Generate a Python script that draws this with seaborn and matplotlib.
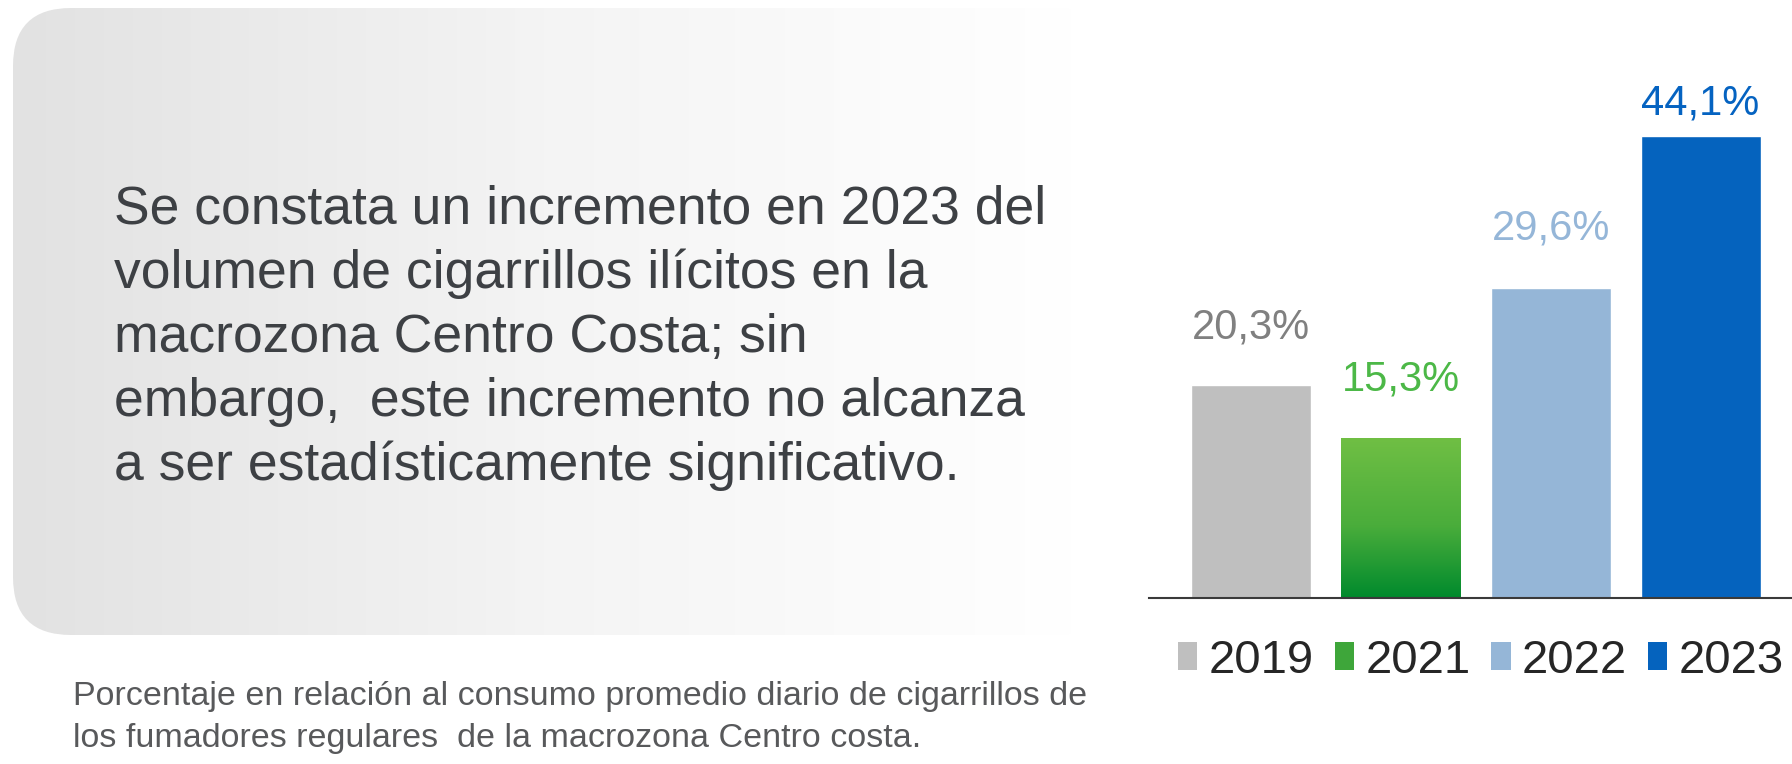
import numpy as np
import pandas as pd
import matplotlib
matplotlib.use("Agg")
import matplotlib.pyplot as plt
import seaborn as sns
from matplotlib.patches import FancyBboxPatch, Patch
from matplotlib.colors import LinearSegmentedColormap

# data
years = ["2019", "2021", "2022", "2023"]
values = [20.3, 15.3, 29.6, 44.1]
value_labels = ["20,3%", "15,3%", "29,6%", "44,1%"]

# styles
bar_colors = ["#bfbfbf", "#4fae3c", "#95b6d7", "#0563be"]
label_colors = ["#808080", "#4cb847", "#95b6d8", "#0563c1"]
label_offsets = [34, 34, 35, 16]  # points above bar top

main_lines = ["Se constata un incremento en 2023 del",
              "volumen de cigarrillos ilícitos en la",
              "macrozona Centro Costa; sin",
              "embargo,  este incremento no alcanza",
              "a ser estadísticamente significativo."]
note_lines = ["Porcentaje en relación al consumo promedio diario de cigarrillos de",
              "los fumadores regulares  de la macrozona Centro costa."]

df = pd.DataFrame({"year": years, "value": values})

sns.set_theme(style="white")
plt.rcParams["font.family"] = ["Liberation Sans", "DejaVu Sans"]

W, H = 1792, 764
fig = plt.figure(figsize=(W / 100, H / 100), dpi=100)

# background panel with grey-to-white gradient (pixel coordinates)
bg = fig.add_axes([0, 0, 1, 1], zorder=0)
panel = FancyBboxPatch((13, 8), 1100, 627, boxstyle="round,pad=0,rounding_size=58",
                       fc="none", ec="none")
bg.add_patch(panel)
panel_cmap = LinearSegmentedColormap.from_list("panel", ["#e2e2e2", "#f4f4f4", "#ffffff"])
im = bg.imshow(np.linspace(0, 1, 256)[None, :], cmap=panel_cmap,
               extent=(13, 1075, 635, 8), aspect="auto")
im.set_clip_path(panel)
bg.set_xlim(0, W)
bg.set_ylim(H, 0)
bg.axis("off")

for i, line in enumerate(main_lines):
    bg.text(114, 224 + i * 64, line, fontsize=38.5, color="#3d4044", va="baseline")
for i, line in enumerate(note_lines):
    bg.text(73, 705 + i * 42, line, fontsize=24.5, color="#58595b", va="baseline")

# bar chart
ax = fig.add_axes([1149 / W, (H - 598) / H, (W - 1149) / W, 598 / H], zorder=1)
ax.patch.set_alpha(0)
sns.barplot(data=df, x="year", y="value", hue="year", palette=bar_colors,
            width=0.8, saturation=1, legend=False, ax=ax)

# green gradient on the 2021 bar
green = ax.patches[1]
gx, gw, gh = green.get_x(), green.get_width(), green.get_height()
green_cmap = LinearSegmentedColormap.from_list(
    "green", [(0, "#008a2d"), (0.45, "#4aad3b"), (1.0, "#70bf44")])
gim = ax.imshow(np.linspace(0, 1, 256)[:, None], cmap=green_cmap, origin="lower",
                extent=(gx, gx + gw, 0, gh), aspect="auto", zorder=green.get_zorder() + 0.1)
gim.set_clip_path(green)

ax.set_xlim(-0.68, 3.61)
ax.set_ylim(0, 598 / 10.47)

for i, (v, lab) in enumerate(zip(values, value_labels)):
    ax.annotate(lab, (i, v), xytext=(0, label_offsets[i]), textcoords="offset points",
                ha="center", va="baseline", fontsize=30, color=label_colors[i])

for side in ["top", "left", "right"]:
    ax.spines[side].set_visible(False)
ax.spines["bottom"].set_color("#3a3a3a")
ax.spines["bottom"].set_linewidth(1.5)
ax.set_xticks([])
ax.set_yticks([])
ax.set_xlabel("")
ax.set_ylabel("")

handles = [Patch(facecolor=c, edgecolor="none") for c in bar_colors]
handles[1] = Patch(facecolor="#3ea63a", edgecolor="none")
fig.legend(handles, years, loc="center", bbox_to_anchor=(1481 / W, 1 - 661 / H),
           ncol=4, frameon=False, fontsize=34, handlelength=0.41, handleheight=0.52,
           handletextpad=0.24, columnspacing=0.44, borderpad=0, borderaxespad=0)

fig.savefig("out.png", dpi=100)
